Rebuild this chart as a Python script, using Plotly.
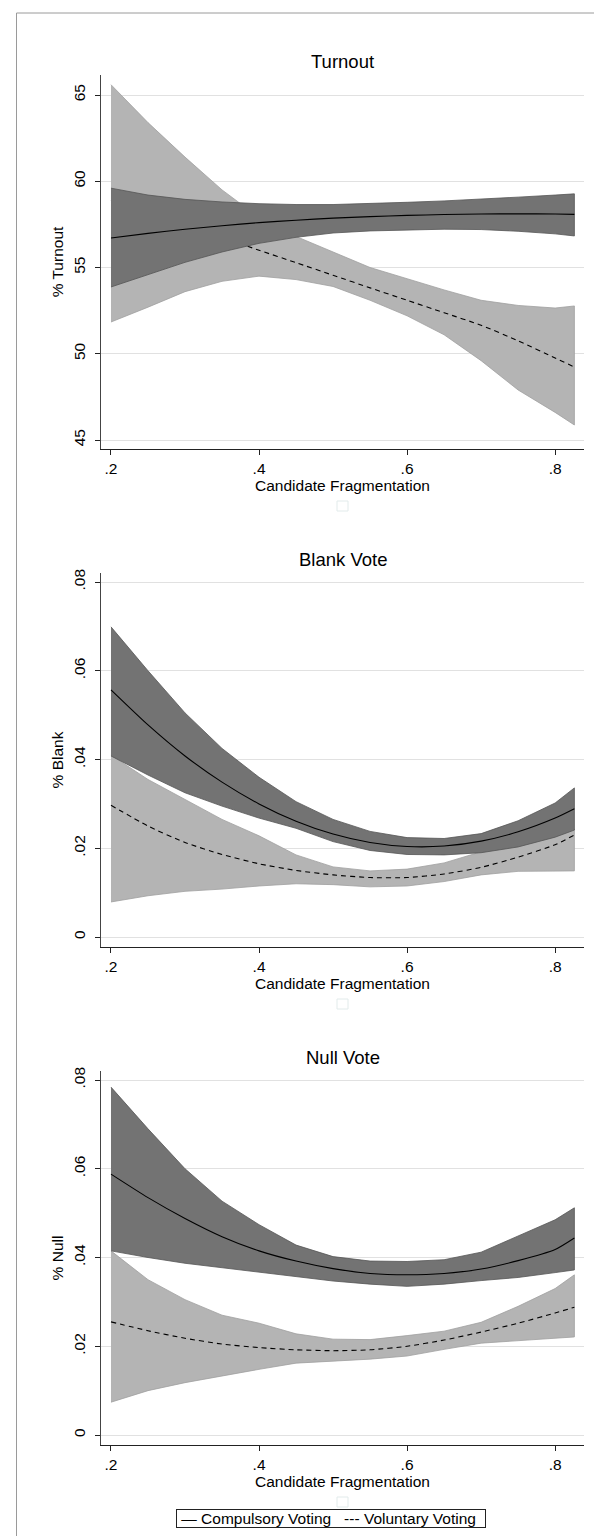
import plotly.graph_objects as go

# ---------------- data ----------------
frag = [0.2, 0.25, 0.3, 0.35, 0.4, 0.45, 0.5, 0.55, 0.6, 0.65, 0.7, 0.75, 0.8, 0.826]

# Turnout
turn_comp = [56.71, 56.98, 57.22, 57.42, 57.6, 57.74, 57.86, 57.95, 58.02, 58.07, 58.1, 58.11, 58.1, 58.08]
turn_comp_hi = [59.6, 59.2, 58.95, 58.8, 58.7, 58.65, 58.65, 58.7, 58.78, 58.86, 58.95, 59.08, 59.2, 59.27]
turn_comp_lo = [53.87, 54.6, 55.3, 55.9, 56.4, 56.75, 57.0, 57.12, 57.18, 57.22, 57.2, 57.1, 56.95, 56.83]
turn_vol = [58.9, 58.2, 57.5, 56.75, 56.0, 55.28, 54.55, 53.82, 53.1, 52.38, 51.65, 50.75, 49.75, 49.23]
turn_vol_hi = [65.6, 63.4, 61.4, 59.5, 57.9, 56.8, 55.9, 55.0, 54.35, 53.7, 53.1, 52.8, 52.65, 52.77]
turn_vol_lo = [51.84, 52.7, 53.6, 54.2, 54.5, 54.3, 53.9, 53.1, 52.2, 51.1, 49.6, 47.9, 46.6, 45.87]

# Blank vote
blank_comp = [0.0557, 0.0478, 0.0408, 0.0349, 0.0300, 0.0261, 0.0232, 0.0213, 0.0204, 0.0205, 0.0216, 0.0237, 0.0268, 0.0289]
blank_comp_hi = [0.0699, 0.0600, 0.0505, 0.0425, 0.0360, 0.0305, 0.0265, 0.0238, 0.0224, 0.0222, 0.0233, 0.0262, 0.0302, 0.0336]
blank_comp_lo = [0.0408, 0.0365, 0.0325, 0.0295, 0.0268, 0.0245, 0.0215, 0.0195, 0.0186, 0.0185, 0.0190, 0.0203, 0.0225, 0.0241]
blank_vol = [0.0297, 0.0250, 0.0213, 0.0186, 0.0165, 0.0150, 0.0140, 0.0134, 0.0134, 0.0142, 0.0157, 0.0180, 0.0208, 0.0230]
blank_vol_hi = [0.0410, 0.0355, 0.0310, 0.0265, 0.0228, 0.0185, 0.0158, 0.0149, 0.0153, 0.0167, 0.0192, 0.0215, 0.0235, 0.0243]
blank_vol_lo = [0.0079, 0.0093, 0.0103, 0.0108, 0.0115, 0.0120, 0.0118, 0.0113, 0.0115, 0.0125, 0.0140, 0.0148, 0.0149, 0.0149]

# Null vote
null_comp = [0.0588, 0.0535, 0.0488, 0.0447, 0.0415, 0.0392, 0.0375, 0.0364, 0.0361, 0.0364, 0.0374, 0.0393, 0.0418, 0.0444]
null_comp_hi = [0.0784, 0.0690, 0.0600, 0.0527, 0.0474, 0.0428, 0.0402, 0.0392, 0.0391, 0.0395, 0.0412, 0.0448, 0.0485, 0.0512]
null_comp_lo = [0.0415, 0.0400, 0.0387, 0.0377, 0.0366, 0.0357, 0.0347, 0.0340, 0.0335, 0.0340, 0.0348, 0.0355, 0.0366, 0.0372]
null_vol = [0.0255, 0.0235, 0.0218, 0.0205, 0.0197, 0.0192, 0.0190, 0.0192, 0.0200, 0.0214, 0.0232, 0.0252, 0.0275, 0.0288]
null_vol_hi = [0.0415, 0.0350, 0.0305, 0.0270, 0.0252, 0.0228, 0.0216, 0.0215, 0.0224, 0.0234, 0.0254, 0.0290, 0.0330, 0.0361]
null_vol_lo = [0.0074, 0.0100, 0.0118, 0.0133, 0.0148, 0.0162, 0.0167, 0.0171, 0.0178, 0.0193, 0.0207, 0.0213, 0.0218, 0.0221]

panel_titles = ["Turnout", "Blank Vote", "Null Vote"]
y_titles = ["% Turnout", "% Blank", "% Null"]
x_title = "Candidate Fragmentation"
x_tickvals = [0.2, 0.4, 0.6, 0.8]
x_ticktext = [".2", ".4", ".6", ".8"]
y_tickvals = [[45, 50, 55, 60, 65], [0, 0.02, 0.04, 0.06, 0.08], [0, 0.02, 0.04, 0.06, 0.08]]
y_ticktext = [["45", "50", "55", "60", "65"], ["0", ".02", ".04", ".06", ".08"], ["0", ".02", ".04", ".06", ".08"]]
legend_text = "&nbsp;— Compulsory Voting&nbsp;&nbsp; --- Voluntary Voting&nbsp;&nbsp;"

# ---------------- styling / layout ----------------
W, H = 602, 1536
L_PX, R_PX = 93, 576
T_PX, B_PX = 67, 1437
PH = B_PX - T_PX
FONT = "Liberation Sans, Arial, Helvetica, sans-serif"
DARK = "rgb(115,115,115)"
LIGHT = "rgb(180,180,180)"


def py(px):
    return (B_PX - px) / PH


def pxx(px):
    return (px - L_PX) / (R_PX - L_PX)


panel_px = [(67, 441), (565, 939), (1063, 1437)]
y_ranges = [[44.478, 66.16], [-0.00225, 0.08203], [-0.00225, 0.08203]]

panels = [
    (turn_comp, turn_comp_hi, turn_comp_lo, turn_vol, turn_vol_hi, turn_vol_lo),
    (blank_comp, blank_comp_hi, blank_comp_lo, blank_vol, blank_vol_hi, blank_vol_lo),
    (null_comp, null_comp_hi, null_comp_lo, null_vol, null_vol_hi, null_vol_lo),
]

fig = go.Figure()
for i, (c, chi, clo, v, vhi, vlo) in enumerate(panels):
    xa = "x" if i == 0 else f"x{i + 1}"
    ya = "y" if i == 0 else f"y{i + 1}"
    band_x = frag + frag[::-1]
    fig.add_trace(go.Scatter(x=band_x, y=vhi + vlo[::-1], fill="toself", fillcolor=LIGHT,
                             line=dict(color="rgb(160,160,160)", width=0.8), mode="lines",
                             xaxis=xa, yaxis=ya, showlegend=False, hoverinfo="skip"))
    fig.add_trace(go.Scatter(x=frag, y=v, mode="lines",
                             line=dict(color="black", width=1.1, dash="5px,4px", shape="spline", smoothing=0.6),
                             xaxis=xa, yaxis=ya, showlegend=False, hoverinfo="skip"))
    fig.add_trace(go.Scatter(x=band_x, y=chi + clo[::-1], fill="toself", fillcolor=DARK,
                             line=dict(color="rgb(85,85,85)", width=0.8), mode="lines",
                             xaxis=xa, yaxis=ya, showlegend=False, hoverinfo="skip"))
    fig.add_trace(go.Scatter(x=frag, y=c, mode="lines",
                             line=dict(color="black", width=1.1, shape="spline", smoothing=0.6),
                             xaxis=xa, yaxis=ya, showlegend=False, hoverinfo="skip"))

layout = dict(
    width=W, height=H,
    margin=dict(l=L_PX, r=W - R_PX, t=T_PX, b=H - B_PX),
    paper_bgcolor="white", plot_bgcolor="white",
    font=dict(family=FONT, size=15.5, color="black"),
    showlegend=False,
)
annotations = []
shapes = []
for i in range(3):
    top, bot = panel_px[i]
    xk = "xaxis" if i == 0 else f"xaxis{i + 1}"
    yk = "yaxis" if i == 0 else f"yaxis{i + 1}"
    ya = "y" if i == 0 else f"y{i + 1}"
    xa = "x" if i == 0 else f"x{i + 1}"
    layout[xk] = dict(
        domain=[0, 1], anchor=ya, range=[0.1865, 0.839],
        tickvals=x_tickvals, ticktext=x_ticktext,
        showline=True, linecolor="#222", linewidth=1,
        ticks="outside", ticklen=5, tickcolor="#222", tickwidth=1,
        showgrid=False, zeroline=False,
        title=dict(text=x_title, standoff=1, font=dict(size=15.5)),
        tickfont=dict(size=15.5),
    )
    layout[yk] = dict(
        domain=[py(bot), py(top)], anchor=xa, range=y_ranges[i],
        tickvals=y_tickvals[i], ticktext=y_ticktext[i], tickangle=-90,
        showline=True, linecolor="#444", linewidth=1,
        ticks="outside", ticklen=5, tickcolor="#222", tickwidth=1,
        ticklabelstandoff=4,
        showgrid=True, gridcolor="#e1e1e1", gridwidth=1, zeroline=False,
        title=dict(text=y_titles[i], standoff=3, font=dict(size=15.5)),
        tickfont=dict(size=15.5),
    )
    annotations.append(dict(text=panel_titles[i], x=0.5, y=py(top - 14), xref="paper", yref="paper",
                            showarrow=False, font=dict(size=18.5), xanchor="center", yanchor="middle"))
    cy = bot + 57
    shapes.append(dict(type="rect", xref="paper", yref="paper",
                       x0=pxx(329), x1=pxx(340), y0=py(cy + 5), y1=py(cy - 5),
                       line=dict(color="#e2ebeb", width=1)))

annotations.append(dict(text=legend_text, x=pxx(168), y=py(1510), xref="paper", yref="paper",
                        showarrow=False, font=dict(size=15.5), xanchor="left", yanchor="middle",
                        bordercolor="#222", borderwidth=1, borderpad=0))
# outer frame (partial, as cut in the reference)
shapes.append(dict(type="line", xref="paper", yref="paper", x0=pxx(8.5), x1=pxx(8.5),
                   y0=py(1536), y1=py(5), line=dict(color="#9a9a9a", width=1)))
shapes.append(dict(type="line", xref="paper", yref="paper", x0=pxx(8.5), x1=pxx(602),
                   y0=py(5), y1=py(5), line=dict(color="#9a9a9a", width=1)))
layout["annotations"] = annotations
layout["shapes"] = shapes
fig.update_layout(**layout)

fig.write_html("out.html")
